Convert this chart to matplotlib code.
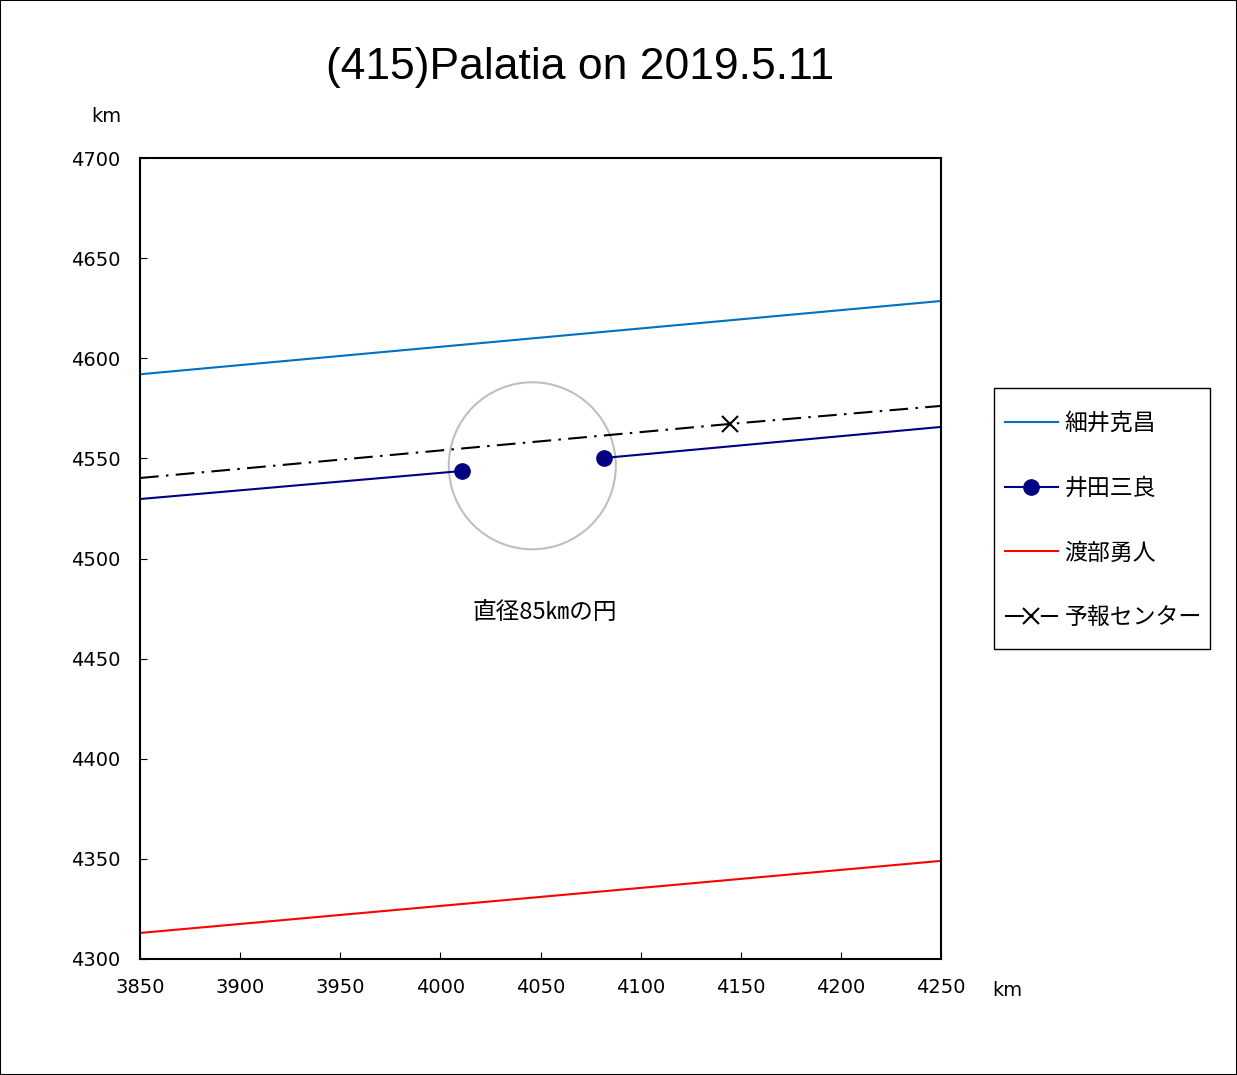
import numpy as np
import matplotlib
matplotlib.use("Agg")
import matplotlib.pyplot as plt
from matplotlib.patches import Circle, Rectangle

plt.rcParams['font.family'] = ['Noto Sans CJK JP', 'DejaVu Sans']

# データ (km)
hosoi_x = [3850, 4250]
hosoi_y = [4592.0, 4628.6]

ida_x = [3850, 4010.8, np.nan, 4081.7, 4250]
ida_y = [4529.7, 4543.7, np.nan, 4550.2, 4565.7]

watanabe_x = [3850, 4250]
watanabe_y = [4313.0, 4349.0]

center_x = [3850, 4144.6, 4250]
center_y = [4540.2, 4567.2, 4576.2]

circle_xy = (4045.9, 4546.3)
circle_r = 41.7

labels = ["細井克昌", "井田三良", "渡部勇人", "予報センター"]
xticks = [3850, 3900, 3950, 4000, 4050, 4100, 4150, 4200, 4250]
yticks = [4300, 4350, 4400, 4450, 4500, 4550, 4600, 4650, 4700]

W, H = 1237, 1075
fig = plt.figure(figsize=(W / 100, H / 100), dpi=100)
ax = fig.add_axes([140 / W, 116 / H, 801 / W, 801 / H])

ax.plot(hosoi_x, hosoi_y, color='#0070c0', lw=1.5, label=labels[0])
ax.plot(ida_x, ida_y, color='#000080', lw=1.5, marker='o', ms=11,
        markevery=[1, 3], label=labels[1])
ax.plot(watanabe_x, watanabe_y, color='#ff0000', lw=1.5, label=labels[2])
ax.plot(center_x, center_y, color='black', lw=1.5, ls=(0, (9, 3.5, 1.2, 3.5)),
        marker='x', ms=11, mew=1.5, markevery=[1], label=labels[3])

ax.add_patch(Circle(circle_xy, circle_r, fill=False, ec='#bfbfbf', lw=1.5))
ax.text(4052, 4473, "直径85㎞の円", ha='center', va='center', fontsize=17)

ax.set_xlim(3850, 4250)
ax.set_ylim(4300, 4700)
ax.set_xticks(xticks)
ax.set_yticks(yticks)
ax.tick_params(direction='in', length=5, labelsize=14, pad=14)
for lab in ax.get_xticklabels() + ax.get_yticklabels():
    lab.set_family('DejaVu Sans')
for s in ax.spines.values():
    s.set_linewidth(1.5)

fig.text(580 / W, 1 - 67 / H, "(415)Palatia on 2019.5.11", ha='center',
         va='center', fontsize=32, family='Liberation Sans')
fig.text(106 / W, 1 - 116 / H, "km", ha='center', va='center', fontsize=14,
         family='DejaVu Sans')
fig.text(1007 / W, 1 - 991 / H, "km", ha='center', va='center', fontsize=14,
         family='DejaVu Sans')

leg = fig.legend(loc='upper left', bbox_to_anchor=(1005 / W, 1 - 412 / H),
                 fontsize=16.5, frameon=False, borderpad=0, borderaxespad=0,
                 labelspacing=1.82, handlelength=2.3, handletextpad=0.3)

# 凡例の枠
fig.patches.append(Rectangle((994 / W, 1 - 649 / H), 216 / W, 261 / H,
                             transform=fig.transFigure, fill=False,
                             ec='black', lw=1.0))
# 外枠
fig.patches.append(Rectangle((0, 0), 1, 1, transform=fig.transFigure,
                             fill=False, ec='black', lw=1.5))

fig.savefig("out.png", dpi=100)
